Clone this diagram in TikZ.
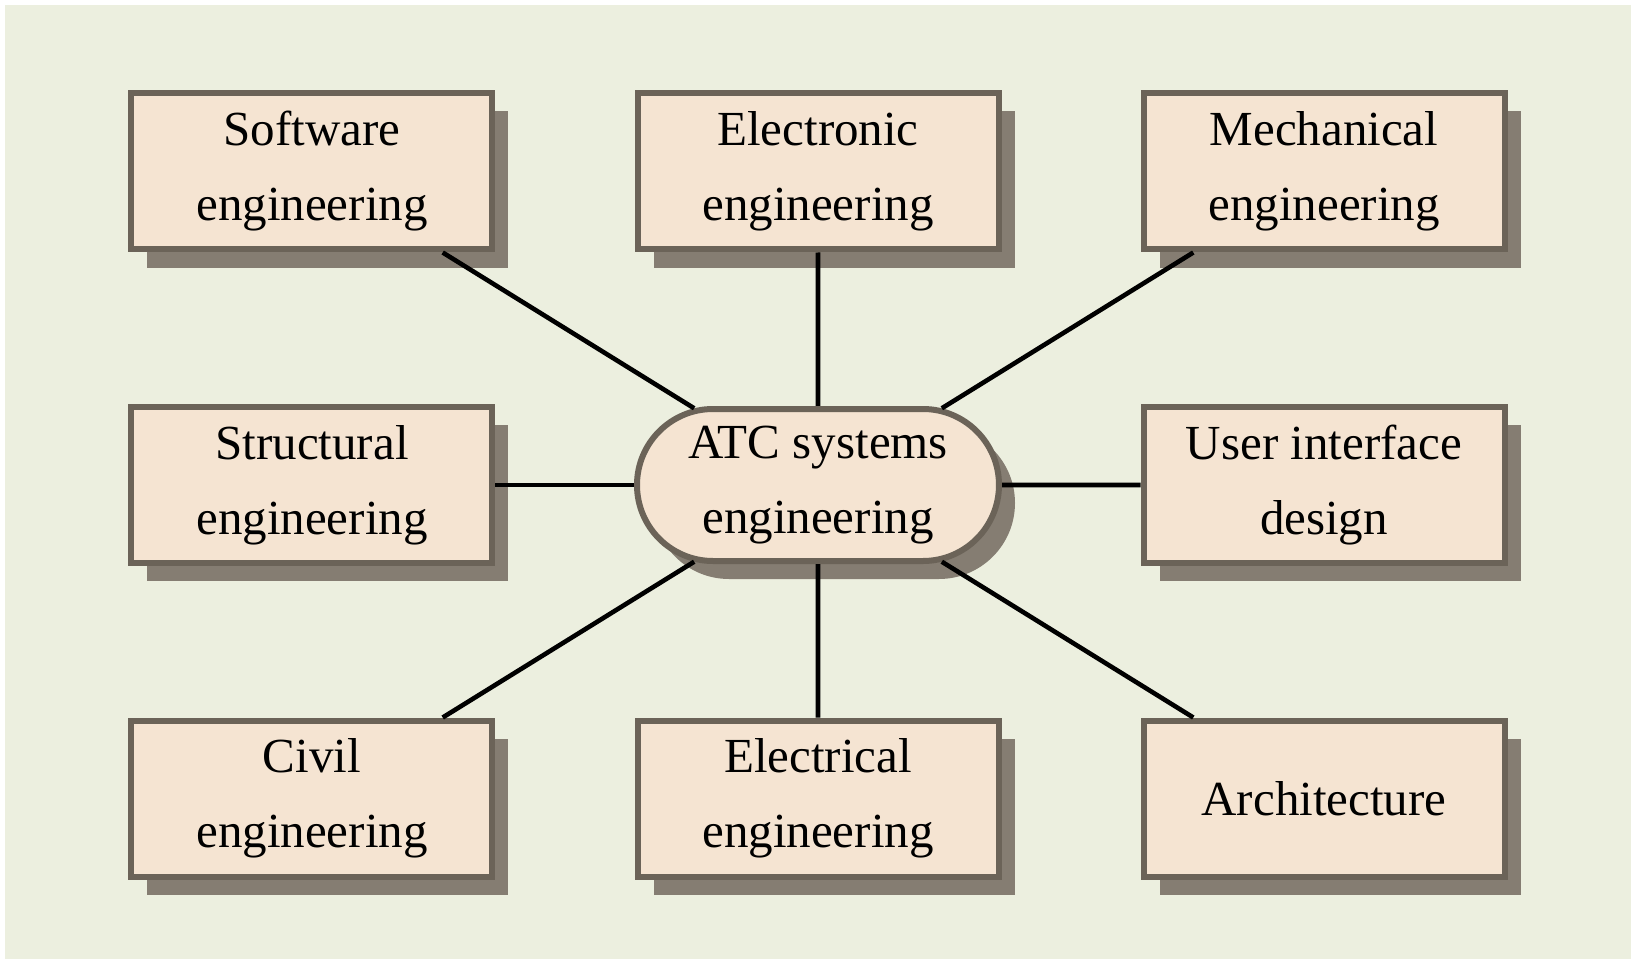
\documentclass[tikz,border=0pt]{standalone}
\usepackage{fontspec}
\setmainfont{Liberation Serif}
\usetikzlibrary{positioning,shapes.misc,shadows}
\definecolor{bgpale}{HTML}{ECEFDF}
\definecolor{peach}{HTML}{F5E4D2}
\definecolor{rim}{HTML}{6B6358}
\definecolor{shade}{HTML}{857D72}
\tikzset{
  field/.style={draw=rim, line width=3pt, fill=peach, align=center, inner sep=0pt,
    font=\fontsize{24.5}{37.5}\selectfont, minimum width=180.5pt, minimum height=78pt,
    drop shadow={shadow xshift=8pt, shadow yshift=-9pt, fill=shade, opacity=1}},
  hub/.style={field, rounded rectangle, minimum width=181pt, minimum height=76pt},
  link/.style={line width=2.3pt, black},
}

\begin{document}
\begin{tikzpicture}[node distance=156.75pt and 253pt, on grid]
    \useasboundingbox (-409pt,-237pt) rectangle (406.5pt,242.5pt);
    \fill[bgpale] (-406.5pt,-237pt) rectangle (406.5pt,240pt);

    \node[hub] (atc) at (0,0) {ATC systems\\engineering};

    \node[field, above left=of atc] (software) {Software\\engineering};
    \node[field, above=of atc] (electronic) {Electronic\\engineering};
    \node[field, above right=of atc] (mechanical) {Mechanical\\engineering};
    \node[field, left=of atc] (structural) {Structural\\engineering};
    \node[field, right=of atc] (ui) {User interface\\design};
    \node[field, below left=of atc] (civil) {Civil\\engineering};
    \node[field, below=of atc] (electrical) {Electrical\\engineering};
    \node[field, below right=of atc] (architecture) {Architecture};

    \foreach \n in {software,electronic,mechanical,structural,ui,civil,electrical,architecture}
      \draw[link] (atc) -- (\n);
\end{tikzpicture}
\end{document}
